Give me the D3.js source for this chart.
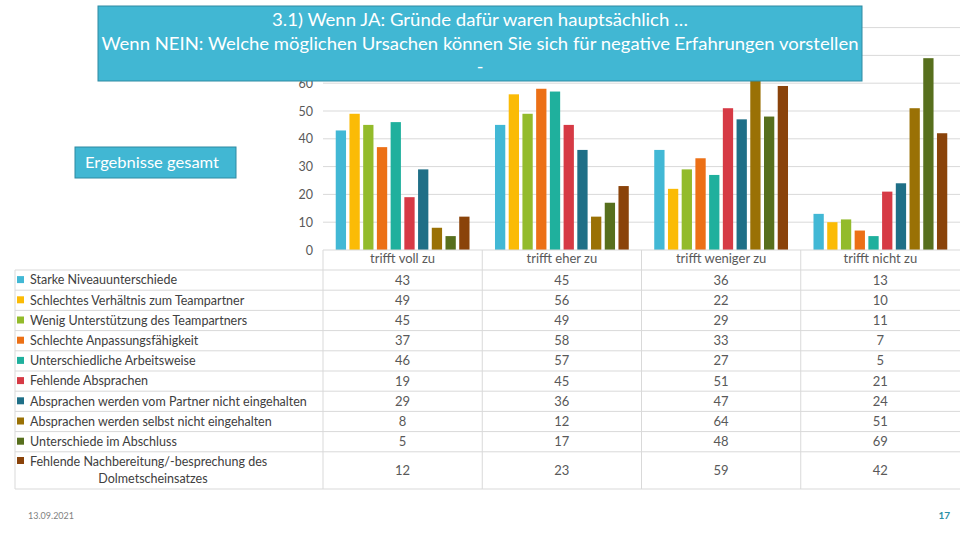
<!DOCTYPE html>
<html>
<head>
<meta charset="utf-8">
<script src="https://cdn.jsdelivr.net/npm/d3@7"></script>
<style>
  html, body { margin: 0; padding: 0; background: #ffffff; }
  svg { display: block; }
  text { font-family: Lato, "Open Sans", "DejaVu Sans", sans-serif; }
</style>
</head>
<body>
<svg id="chart" width="960" height="540"></svg>
<script>
// ---- data ----
const categories = ["trifft voll zu", "trifft eher zu", "trifft weniger zu", "trifft nicht zu"];
const seriesNames = [
  "Starke Niveauunterschiede",
  "Schlechtes Verhältnis zum Teampartner",
  "Wenig Unterstützung des Teampartners",
  "Schlechte Anpassungsfähigkeit",
  "Unterschiedliche Arbeitsweise",
  "Fehlende Absprachen",
  "Absprachen werden vom Partner nicht eingehalten",
  "Absprachen werden selbst nicht eingehalten",
  "Unterschiede im Abschluss",
  "Fehlende Nachbereitung/-besprechung des Dolmetscheinsatzes"
];
const seriesValues = [
  [43, 45, 36, 13],
  [49, 56, 22, 10],
  [45, 49, 29, 11],
  [37, 58, 33, 7],
  [46, 57, 27, 5],
  [19, 45, 51, 21],
  [29, 36, 47, 24],
  [8, 12, 64, 51],
  [5, 17, 48, 69],
  [12, 23, 59, 42]
];
const gridTicks = [10, 20, 30, 40, 50, 60, 70, 80];
const yTickLabels = [0, 10, 20, 30, 40, 50, 60]; // 70 and 80 are hidden behind the title box
const seriesColors = ["#42b8d5", "#fbbb06", "#93bb2b", "#ec7016", "#1fb09d",
                      "#d63a45", "#1f6f87", "#9a7105", "#576f1d", "#8a430a"];
const titleLines = [
  "3.1) Wenn JA: Gründe dafür waren hauptsächlich …",
  "Wenn NEIN: Welche möglichen Ursachen können Sie sich für negative Erfahrungen vorstellen",
  "-"
];
const subtitleText = "Ergebnisse gesamt";
const footerDate = "13.09.2021";
const footerPage = "17";

// ---- layout ----
const svg = d3.select("#chart");
const plotLeft = 323, plotRight = 960, plotBottom = 250;
const tableLeft = 15;
const gridColor = "#d9d9d9";

const x0 = d3.scaleBand().domain(categories).range([plotLeft, plotRight]).padding(0);
const x1 = d3.scaleBand().domain(d3.range(seriesNames.length))
  .range([x0.bandwidth() * 0.08, x0.bandwidth() * 0.92]).paddingInner(0.25).paddingOuter(0);
const y = d3.scaleLinear().domain([0, 80]).range([plotBottom, 27.6]);

// gridlines
svg.append("g").selectAll("line").data(gridTicks).join("line")
  .attr("x1", plotLeft).attr("x2", plotRight)
  .attr("y1", d => y(d)).attr("y2", d => y(d))
  .attr("stroke", gridColor).attr("stroke-width", 1);

// y axis labels
const yAxis = d3.axisLeft(y).tickValues(yTickLabels).tickSize(0).tickPadding(0);
const yg = svg.append("g").attr("transform", `translate(${plotLeft - 10},0)`).call(yAxis);
yg.select(".domain").remove();
yg.selectAll("text").attr("fill", "#595959").style("font-size", "12.5px")
  .style("font-family", "Lato, 'Open Sans', sans-serif");

// bars
const groups = svg.append("g").selectAll("g").data(categories).join("g")
  .attr("transform", d => `translate(${x0(d)},0)`);
groups.selectAll("rect")
  .data((c, ci) => seriesValues.map((vals, si) => ({ si, v: vals[ci] })))
  .join("rect")
  .attr("x", d => x1(d.si))
  .attr("width", x1.bandwidth())
  .attr("y", d => y(d.v))
  .attr("height", d => y(0) - y(d.v))
  .attr("fill", d => seriesColors[d.si]);

// ---- data table ----
const rowTop = 270, rowH = 20.2;
const tableBottom = 489;
const rowY = seriesNames.map((_, i) => i < 9 ? [rowTop + i * rowH, rowTop + (i + 1) * rowH] : [rowTop + 9 * rowH, tableBottom]);

const tg = svg.append("g");
tg.append("line").attr("x1", plotLeft).attr("x2", plotRight).attr("y1", plotBottom).attr("y2", plotBottom)
  .attr("stroke", gridColor);
const hLines = rowY.map(r => r[0]).concat([tableBottom]);
tg.selectAll("line.h").data(hLines).join("line").attr("class", "h")
  .attr("x1", tableLeft).attr("x2", plotRight).attr("y1", d => d).attr("y2", d => d)
  .attr("stroke", gridColor);
tg.append("line").attr("x1", tableLeft).attr("x2", tableLeft).attr("y1", rowTop).attr("y2", tableBottom)
  .attr("stroke", gridColor);
tg.selectAll("line.v").data(categories).join("line").attr("class", "v")
  .attr("x1", d => x0(d)).attr("x2", d => x0(d)).attr("y1", plotBottom).attr("y2", tableBottom)
  .attr("stroke", gridColor);

// category header labels
tg.selectAll("text.cat").data(categories).join("text").attr("class", "cat")
  .attr("x", d => x0(d) + x0.bandwidth() / 2).attr("y", 263)
  .attr("text-anchor", "middle").attr("fill", "#595959").style("font-size", "13px")
  .text(d => d);

// values
seriesValues.forEach((vals, si) => {
  const cy = (rowY[si][0] + rowY[si][1]) / 2;
  tg.append("g").selectAll("text").data(categories).join("text")
    .attr("x", d => x0(d) + x0.bandwidth() / 2).attr("y", cy + 4.5)
    .attr("text-anchor", "middle").attr("fill", "#595959").style("font-size", "13px")
    .text((d, ci) => vals[ci]);
});

// row labels with legend keys
seriesNames.forEach((name, si) => {
  const cy = (rowY[si][0] + rowY[si][1]) / 2;
  if (si < 9) {
    tg.append("rect").attr("x", 17).attr("y", cy - 4).attr("width", 7).attr("height", 7)
      .attr("fill", seriesColors[si]);
    const t = tg.append("text").attr("x", 30).attr("y", cy + 4.3).attr("fill", "#404040")
      .style("font-size", "12.5px").text(name);
    const w = t.node().getComputedTextLength();
    if (w > 289) t.attr("textLength", 289).attr("lengthAdjust", "spacingAndGlyphs");
  } else {
    const parts = ["Fehlende Nachbereitung/-besprechung des", "Dolmetscheinsatzes"];
    tg.append("rect").attr("x", 17).attr("y", 457).attr("width", 7).attr("height", 7)
      .attr("fill", seriesColors[si]);
    tg.append("text").attr("x", 30).attr("y", 465.5).attr("fill", "#404040")
      .style("font-size", "12.5px").text(parts[0]);
    tg.append("text").attr("x", 153).attr("y", 482.5).attr("text-anchor", "middle").attr("fill", "#404040")
      .style("font-size", "12.5px").text(parts[1]);
  }
});

// ---- title box ----
const boxFill = "#41b7d3", boxStroke = "#2f8aa2";
svg.append("rect").attr("x", 98).attr("y", 6).attr("width", 764).attr("height", 75)
  .attr("fill", boxFill).attr("stroke", boxStroke).attr("stroke-width", 1);
const titleWidths = [416, 757, null];
titleLines.forEach((line, i) => {
  const t = svg.append("text").attr("x", 480).attr("y", 26 + i * 23.5)
    .attr("text-anchor", "middle").attr("fill", "#ffffff").style("font-size", "18px").text(line);
  if (titleWidths[i]) t.attr("textLength", titleWidths[i]).attr("lengthAdjust", "spacingAndGlyphs");
});

// subtitle box
svg.append("rect").attr("x", 75).attr("y", 147).attr("width", 161).attr("height", 31)
  .attr("fill", boxFill).attr("stroke", boxStroke).attr("stroke-width", 1);
svg.append("text").attr("x", 85).attr("y", 168).attr("fill", "#ffffff").style("font-size", "15px")
  .attr("textLength", 134).attr("lengthAdjust", "spacingAndGlyphs").text(subtitleText);

// footer
svg.append("text").attr("x", 28).attr("y", 519).attr("fill", "#7f7f7f").style("font-size", "9px").text(footerDate);
svg.append("text").attr("x", 950).attr("y", 519).attr("text-anchor", "end").attr("fill", "#2e8fa6")
  .style("font-size", "10px").style("font-weight", "bold").text(footerPage);
</script>
</body>
</html>
